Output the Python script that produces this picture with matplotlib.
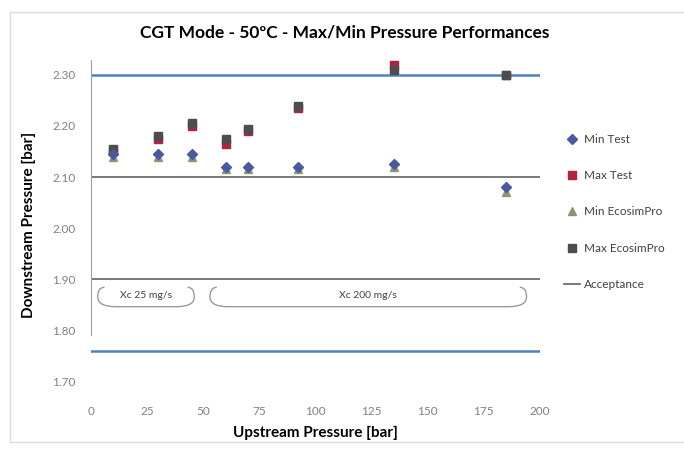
import matplotlib
matplotlib.use("Agg")
import matplotlib.pyplot as plt
from matplotlib.path import Path
from matplotlib.patches import PathPatch, Rectangle

plt.rcParams['font.family'] = ['Lato', 'DejaVu Sans']

# data
upstream = [10, 30, 45, 60, 70, 92, 135, 185]
min_test = [2.145, 2.145, 2.145, 2.12, 2.12, 2.12, 2.125, 2.08]
max_test = [2.15, 2.175, 2.20, 2.165, 2.19, 2.235, 2.32, 2.30]
min_eco = [2.14, 2.14, 2.14, 2.115, 2.115, 2.115, 2.12, 2.07]
max_eco = [2.155, 2.18, 2.205, 2.175, 2.195, 2.24, 2.31, 2.30]
accept_blue = [2.30, 1.76]
accept_dark = [2.10, 1.90]
xticks = [0, 25, 50, 75, 100, 125, 150, 175, 200]
yticks = [1.70, 1.80, 1.90, 2.00, 2.10, 2.20, 2.30]
groups = [("Xc 25 mg/s", 3, 46), ("Xc 200 mg/s", 53, 194)]
group_y = (1.846, 1.884)

fig = plt.figure(figsize=(6.84, 4.5), dpi=100)
fig.patches.append(Rectangle((10 / 684, 8 / 450), 1, 430 / 450, transform=fig.transFigure,
                             fill=False, edgecolor='#dcdcdc', lw=1))
ax = fig.add_axes([91 / 684, 1 - 395 / 450, 449 / 684, 340 / 450])
ax.set_xlim(0, 200)
ax.set_ylim(1.673, 2.339)

for y in accept_blue:
    ax.axhline(y, color='#4f81bd', lw=1.8, zorder=2)
for i, y in enumerate(accept_dark):
    ax.axhline(y, color='#6e6e6e', lw=1.3, zorder=2, label='Acceptance' if i == 0 else None)

ax.plot(upstream, min_test, 'D', ms=5, color='#4a5aa0', ls='none', label='Min Test', zorder=5)
ax.plot(upstream, max_test, 's', ms=6, color='#b02240', ls='none', label='Max Test', zorder=3)
ax.plot(upstream, min_eco, '^', ms=6, color='#8f9470', ls='none', label='Min EcosimPro', zorder=4)
ax.plot(upstream, max_eco, 's', ms=6, color='#4d4d4d', ls='none', label='Max EcosimPro', zorder=4)

# bracket shapes around the flow groups
ylo, yhi = group_y
ymid = (ylo + yhi) / 2
for text, x0, x1 in groups:
    verts = [(x0 + 3, yhi), (x0, yhi), (x0, ymid), (x0, ylo), (x0 + 8, ylo),
             (x1 - 8, ylo), (x1, ylo), (x1, ymid), (x1, yhi), (x1 - 3, yhi)]
    codes = [Path.MOVETO, Path.CURVE3, Path.CURVE3, Path.CURVE3, Path.CURVE3,
             Path.LINETO, Path.CURVE3, Path.CURVE3, Path.CURVE3, Path.CURVE3]
    ax.add_patch(PathPatch(Path(verts, codes), fill=False, edgecolor='#9a9a9a', lw=1))
    ax.text((x0 + x1) / 2, ymid + 0.003, text, ha='center', va='center', fontsize=7.5, color='#404040')

ax.set_xticks(xticks)
ax.set_yticks(yticks)
ax.set_yticklabels(['%.2f' % v for v in yticks])
ax.tick_params(length=0, labelsize=8.5, labelcolor='#808080')
ax.tick_params(axis='y', pad=11)
ax.tick_params(axis='x', pad=8)
for s in ['top', 'right', 'bottom']:
    ax.spines[s].set_visible(False)
ax.spines['left'].set_color('#a0a0a0')
ax.spines['left'].set_bounds(1.79, 2.33)

ax.set_xlabel('Upstream Pressure [bar]', fontsize=11, fontweight='bold', labelpad=6)
ax.set_ylabel('Downstream Pressure [bar]', fontsize=11, fontweight='bold', labelpad=12)
fig.text(345 / 684, 1 - 33 / 450, 'CGT Mode - 50ºC - Max/Min Pressure Performances',
         ha='center', va='center', fontsize=12.5, fontweight='bold')

handles, labels = ax.get_legend_handles_labels()
order = [1, 2, 3, 4, 0]
ax.legend([handles[i] for i in order], [labels[i] for i in order],
          loc='center left', bbox_to_anchor=(558 / 684, 1 - 212 / 450),
          bbox_transform=fig.transFigure, frameon=False, fontsize=8.5,
          labelspacing=2.15, handlelength=1.4, handletextpad=0.3, borderpad=0,
          labelcolor='#404040')

fig.savefig('out.png', dpi=100)
